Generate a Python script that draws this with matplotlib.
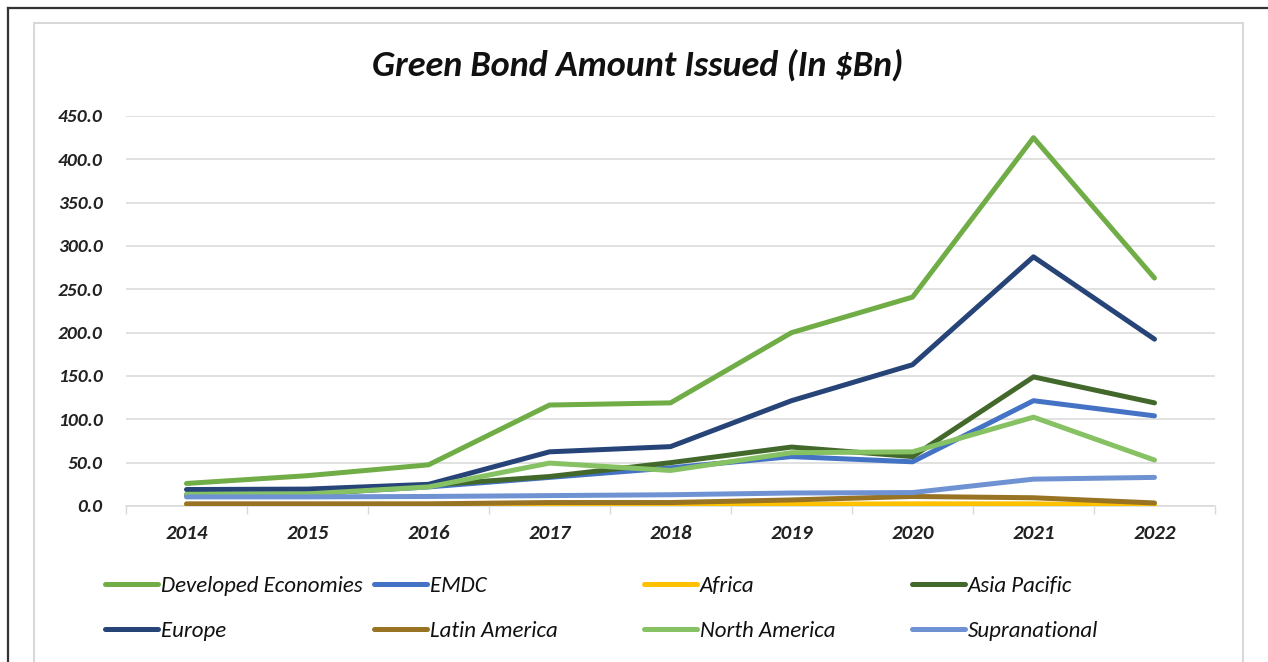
import matplotlib
matplotlib.use("Agg")
import matplotlib.pyplot as plt
from matplotlib.lines import Line2D
from matplotlib.patches import Rectangle

plt.rcParams['font.family'] = ['Carlito', 'Liberation Sans Narrow', 'DejaVu Sans']

years = ["2014", "2015", "2016", "2017", "2018", "2019", "2020", "2021", "2022"]

developed_economies = [26.0, 35.0, 47.5, 116.5, 119.0, 200.0, 241.0, 425.0, 263.0]
emdc = [13.0, 14.0, 22.0, 33.0, 44.0, 57.0, 51.0, 121.5, 104.0]
africa = [0.5, 0.5, 0.5, 1.0, 1.0, 2.0, 2.5, 2.5, 0.5]
asia_pacific = [12.0, 13.0, 24.0, 34.0, 50.0, 68.0, 57.0, 149.0, 119.0]
europe = [19.0, 19.5, 25.0, 62.5, 68.5, 121.5, 163.0, 287.5, 192.5]
latin_america = [2.5, 2.5, 2.5, 4.0, 4.0, 7.0, 11.0, 9.5, 3.5]
north_america = [13.5, 14.0, 22.0, 49.5, 41.0, 61.5, 62.5, 102.5, 53.0]
supranational = [10.5, 10.5, 11.0, 12.0, 13.0, 15.0, 15.5, 31.0, 33.0]

series_names = ["Developed Economies", "EMDC", "Africa", "Asia Pacific",
                "Europe", "Latin America", "North America", "Supranational"]
series_values = [developed_economies, emdc, africa, asia_pacific,
                 europe, latin_america, north_america, supranational]
series_colors = ["#70AD47", "#4472C4", "#FFC000", "#43682B",
                 "#264478", "#987323", "#86C163", "#6F93D2"]

y_ticks = [0, 50, 100, 150, 200, 250, 300, 350, 400, 450]

W, H = 1268, 662
fig = plt.figure(figsize=(W / 100, H / 100), dpi=100)
fig.patch.set_facecolor("white")

# outer page frame and inner chart-area border
fig.add_artist(Line2D([8 / W, 8 / W], [0, 1 - 8 / H], transform=fig.transFigure,
                      color="#333333", lw=1.6))
fig.add_artist(Line2D([8 / W, 1], [1 - 8 / H, 1 - 8 / H], transform=fig.transFigure,
                      color="#333333", lw=1.6))
fig.add_artist(Rectangle((34 / W, -0.05), (1243 - 34) / W, 1.05 - 23 / H,
                         transform=fig.transFigure, fill=False,
                         edgecolor="#D9D9D9", lw=1.5))

left, right, top, bottom = 126, 1215, 116, 506
ax = fig.add_axes([left / W, 1 - bottom / H, (right - left) / W, (bottom - top) / H])

x = list(range(len(years)))
handles = []
for name, vals, col in zip(series_names, series_values, series_colors):
    ln, = ax.plot(x, vals, color=col, lw=3.6, solid_capstyle="round",
                  solid_joinstyle="round", label=name, zorder=3)
    handles.append(ln)

ax.set_xlim(-0.5, len(years) - 0.5)
ax.set_ylim(0, 450)
ax.set_yticks(y_ticks)
ax.set_yticklabels([f"{v:.1f}" for v in y_ticks], fontsize=14,
                   fontweight="bold", fontstyle="italic", color="#222222")
ax.set_xticks(x)
ax.set_xticklabels(years, fontsize=15, fontweight="bold",
                   fontstyle="italic", color="#222222")
ax.tick_params(axis="y", length=0, pad=17)
ax.tick_params(axis="x", length=0, pad=14)
# category boundary tick marks
ax.set_xticks([i - 0.5 for i in range(len(years) + 1)], minor=True)
ax.tick_params(axis="x", which="minor", length=6, color="#D9D9D9", width=1)

ax.grid(axis="y", color="#D9D9D9", lw=1.1, zorder=0)
for s in ["top", "right", "left"]:
    ax.spines[s].set_visible(False)
ax.spines["bottom"].set_color("#D9D9D9")
ax.spines["bottom"].set_linewidth(1.1)
ax.set_axisbelow(True)

fig.text(638 / W, 1 - 65 / H, "Green Bond Amount Issued (In $Bn)",
         ha="center", va="center", fontsize=26, fontweight="bold",
         fontstyle="italic", color="#111111")

# legend laid out in four columns, two rows
col_x = [105, 374, 644, 912]
for c in range(4):
    hs = [handles[c], handles[c + 4]]
    leg = fig.legend(hs, [h.get_label() for h in hs], loc="upper left",
                     bbox_to_anchor=(col_x[c] / W, 1 - 576 / H),
                     frameon=False, ncol=1, handlelength=2.3, handletextpad=0.15,
                     labelspacing=1.08, borderpad=0, borderaxespad=0,
                     prop={"size": 16.5, "style": "italic"})
    for t in leg.get_texts():
        t.set_color("#111111")

fig.savefig("out.png", dpi=100, facecolor="white")
